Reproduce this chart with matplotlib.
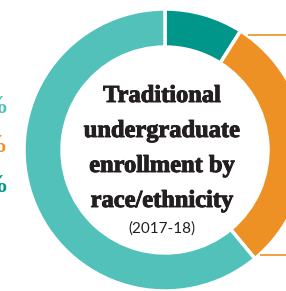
#import the necessary packages
import numpy as np
import matplotlib.pyplot as plt
import matplotlib.patheffects as pe

# figure size in pixels (the reference is a crop of a larger graphic)
W, H = 286, 291

# data, clockwise from 12 o'clock
shares = [9, 30, 61]
colors = ["#00968A", "#EE9124", "#52C1B9"]

# percent labels on the left edge (mostly cut off in the reference)
side_values = [61, 30, 9]
side_colors = ["#52C1B9", "#EE9124", "#00968A"]

title_lines = ["Traditional", "undergraduate", "enrollment by", "race/ethnicity"]
subtitle = "(2017-18)"

#ring geometry in pixels
cx, cy = 165, H - 150
R, ring = 141, 38

fig = plt.figure(figsize=(W / 100, H / 100), dpi=100)
ax = fig.add_axes([0, 0, 1, 1])

wedges, _ = ax.pie(shares, colors=colors, startangle=90, counterclock=False,
                   center=(cx, cy), radius=R,
                   wedgeprops=dict(width=ring, edgecolor="white", linewidth=2.5))

ax.set_xlim(0, W)
ax.set_ylim(0, H)
ax.set_aspect("auto")
ax.axis("off")

# orange leader lines going out to the right from the orange wedge corners
orange = wedges[1]
for t in [orange.theta2 - 3, orange.theta1 + 2]:
    px = cx + R * np.cos(np.radians(t))
    py = cy + R * np.sin(np.radians(t))
    ax.plot([px + 1, W + 5], [py, py], color=colors[1], lw=1.2, solid_capstyle="butt")

# title in the hole, thickened a little to look like the heavy display serif
serif = "Liberation Serif"
heavy = [pe.withStroke(linewidth=0.7, foreground="#231F20")]
for i, line in enumerate(title_lines):
    ax.text(162, H - (102 + 35 * i), line, ha="center", va="baseline",
            fontsize=17.6, fontweight="bold", family=serif, color="#231F20",
            path_effects=heavy)
ax.text(162, H - 233, subtitle, ha="center", va="baseline",
        fontsize=11, family="Lato", color="#231F20")

# percent labels, cut by the left edge
for i, (v, c) in enumerate(zip(side_values, side_colors)):
    ax.text(9, H - (113 + 39.5 * i), f"{v}%", ha="right", va="baseline",
            fontsize=19, fontweight="bold", family=serif, color=c)

fig.savefig("out.png", dpi=100)
